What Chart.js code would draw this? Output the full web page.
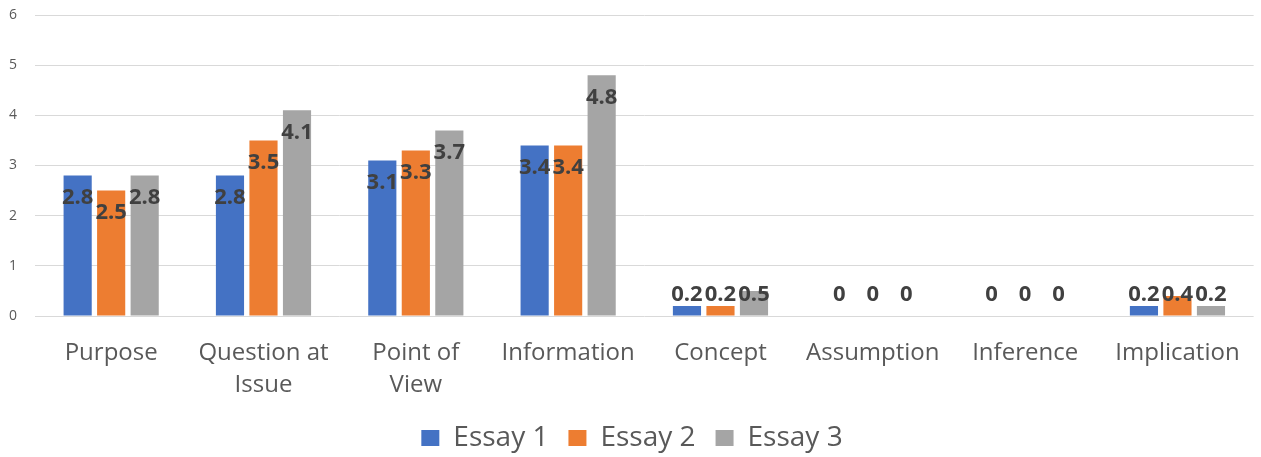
<!DOCTYPE html>
<html><head><meta charset="utf-8">
<script src="https://cdn.jsdelivr.net/npm/chart.js@4/dist/chart.umd.min.js"></script>
<style>html,body{margin:0;padding:0;background:#fff}#wrap{width:1261px;height:457px}</style>
</head><body><div id="wrap"><canvas id="c" width="1261" height="457"></canvas></div>
<script>
const categories = ["Purpose", ["Question at","Issue"], ["Point of","View"], "Information", "Concept", "Assumption", "Inference", "Implication"];
const essay1 = [2.8, 2.8, 3.1, 3.4, 0.2, 0, 0, 0.2];
const essay2 = [2.5, 3.5, 3.3, 3.4, 0.2, 0, 0, 0.4];
const essay3 = [2.8, 4.1, 3.7, 4.8, 0.5, 0, 0, 0.2];
const yTicks = [0, 1, 2, 3, 4, 5, 6];

const FONT = "'Open Sans', sans-serif";

const labelPlugin = {
  id: 'valueLabels',
  afterDatasetsDraw(chart) {
    const ctx = chart.ctx;
    const y = chart.scales.y;
    ctx.save();
    ctx.font = "bold 22px " + FONT;
    ctx.fillStyle = "#404040";
    ctx.textAlign = "center";
    ctx.textBaseline = "middle";
    chart.data.datasets.forEach((ds, di) => {
      const meta = chart.getDatasetMeta(di);
      meta.data.forEach((bar, i) => {
        const v = ds.data[i];
        const pos = Math.max(v - 0.45, 0.42);
        ctx.fillText(String(v), bar.x, y.getPixelForValue(pos));
      });
    });
    ctx.restore();
  }
};

new Chart(document.getElementById('c'), {
  type: 'bar',
  data: {
    labels: categories,
    datasets: [
      {label: "Essay 1", data: essay1, backgroundColor: "#4472C4"},
      {label: "Essay 2", data: essay2, backgroundColor: "#ED7D31"},
      {label: "Essay 3", data: essay3, backgroundColor: "#A5A5A5"}
    ]
  },
  options: {
    responsive: false,
    animation: false,
    layout: {padding: {top: 15, right: 6, left: 9, bottom: -5}},
    datasets: {bar: {categoryPercentage: 0.66, barPercentage: 0.84}},
    plugins: {
      tooltip: {enabled: false},
      legend: {
        position: 'bottom',
        labels: {boxWidth: 18, boxHeight: 16, padding: 20, color: "#595959", font: {size: 28, family: FONT}}
      }
    },
    scales: {
      x: {
        grid: {display: false, drawTicks: false},
        border: {display: false},
        ticks: {color: "#595959", font: {size: 24, family: FONT, lineHeight: 1.34}, maxRotation: 0, autoSkip: false, padding: 21},
        afterFit(s) { s.height = 88; }
      },
      y: {
        min: 0, max: 6,
        afterBuildTicks(s) { s.ticks = yTicks.map(v => ({value: v})); },
        grid: {color: "#d9d9d9", lineWidth: 1, drawTicks: false},
        border: {display: false},
        ticks: {color: "#595959", font: {size: 14, family: FONT}, padding: 0, crossAlign: 'far'},
        afterFit(s) { s.width = 26; }
      }
    }
  },
  plugins: [labelPlugin]
});
</script>
</body></html>
